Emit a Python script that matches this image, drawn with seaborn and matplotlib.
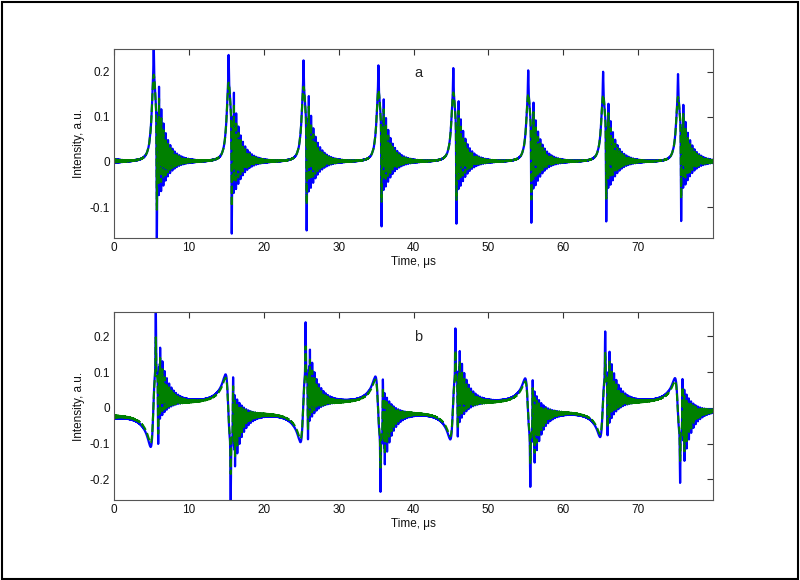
import numpy as np
import matplotlib
matplotlib.use("Agg")
import matplotlib.pyplot as plt
import seaborn as sns

# ---- values ----
# (a) pulse peak times (us) and levels; first entry is the pulse just before t=0
pulse_t_a = [-4.7, 5.3, 15.3, 25.3, 35.3, 45.3, 55.3, 65.3, 75.3]
peak_a = [0.28, 0.26, 0.236, 0.224, 0.213, 0.207, 0.202, 0.199, 0.194]
dip_a = [-0.18, -0.172, -0.159, -0.152, -0.143, -0.137, -0.135, -0.132, -0.131]
ring_a = [0.12, 0.113, 0.105, 0.1, 0.095, 0.092, 0.09, 0.088, 0.087]

# (b) zero crossing of each dispersive pulse, its sign and levels
pulse_t_b = [-4.75, 5.25, 15.25, 25.25, 35.25, 45.25, 55.25, 65.25, 75.25]
sign_b = [-1, 1, -1, 1, -1, 1, -1, 1, -1]
spike_b = [0.29, 0.28, 0.26, 0.24, 0.235, 0.222, 0.222, 0.212, 0.214]
bump_b = [0.11, 0.106, 0.094, 0.095, 0.087, 0.088, 0.081, 0.083, 0.079]
anti_b = [0.1, 0.099, 0.087, 0.088, 0.08, 0.081, 0.077, 0.079, 0.077]

x_ticks = [0, 10, 20, 30, 40, 50, 60, 70]
y_ticks_a = [-0.1, 0, 0.1, 0.2]
y_ticks_b = [-0.2, -0.1, 0, 0.1, 0.2]

BLUE = "#0000ff"
GREEN = "#008000"

t = np.arange(0, 80.0, 0.004)


# Function for the fast ringing that follows every pulse
def ringing(x, band, spike, x0):
    u = np.clip(x - x0, 0, None)
    phase = np.mod(u, 0.3) - 0.15
    comb = np.exp(-(phase / 0.03) ** 2) / 0.84
    env = band * np.exp(-u / 1.8) + spike * np.exp(-u / 0.9) * comb
    return (x > x0) * env * np.sin(2 * np.pi * phase / 0.05)


def trace_a():
    blue = np.zeros_like(t)
    green = np.zeros_like(t)
    for tp, P, D, S in zip(pulse_t_a, peak_a, dip_a, ring_a):
        x = t - tp
        Ps = 0.74 * P
        w = np.where(x < 0, 0.31, 0.4)
        base = Ps * w ** 2 / (x ** 2 + w ** 2)
        top = (P - Ps) * np.exp(-(x / 0.05) ** 2)
        dip = (D - 0.476 * Ps) * np.exp(-((x - 0.42) / 0.05) ** 2)
        band = 0.14 * P
        ring = ringing(x, band, S - 0.3 * band, 0.55)
        blue += base + top + dip + ring
        green += base + 0.75 * dip + 0.78 * ring
    return blue, green


def trace_b():
    blue = np.zeros_like(t)
    green = np.zeros_like(t)
    w = 0.35
    for c, s, M, Q, A in zip(pulse_t_b, sign_b, spike_b, bump_b, anti_b):
        x = t - c
        base = s * Q * 2 * x * w / (x ** 2 + w ** 2)
        main = s * (M - Q) * np.exp(-((x - 0.33) / 0.05) ** 2)
        anti = s * (-A - 0.835 * Q) * np.exp(-((x - 0.65) / 0.045) ** 2)
        ring = s * ringing(x, 0.036, 0.08, 0.75)
        blue += base + main + anti + ring
        green += 0.9 * base + 0.6 * main + 0.8 * anti + 0.78 * ring
    return blue, green


blue_a, green_a = trace_a()
blue_b, green_b = trace_b()

sns.set_style("white")
plt.rcParams["font.family"] = ["Liberation Sans", "DejaVu Sans"]

fig = plt.figure(figsize=(8, 5.8), dpi=100)
ax_a = fig.add_axes([0.1425, 0.5897, 0.749, 0.326])
ax_b = fig.add_axes([0.1425, 0.138, 0.749, 0.324])

panels = [
    (ax_a, blue_a, green_a, (-0.168, 0.25), y_ticks_a, "a"),
    (ax_b, blue_b, green_b, (-0.258, 0.268), y_ticks_b, "b"),
]
for ax, yb, yg, ylim, yt, tag in panels:
    sns.lineplot(x=t, y=yb, ax=ax, color=BLUE, lw=1.6, estimator=None, sort=False)
    sns.lineplot(x=t, y=yg, ax=ax, color=GREEN, lw=1.5, linestyle="--",
                 estimator=None, sort=False)
    ax.set_xlim(0, 80)
    ax.set_ylim(*ylim)
    ax.set_xticks(x_ticks)
    ax.set_xticklabels([str(v) for v in x_ticks])
    ax.set_yticks(yt)
    ax.set_yticklabels(["0" if v == 0 else f"{v:g}" for v in yt])
    ax.tick_params(direction="in", length=4, width=0.8, colors="#333333",
                   labelcolor="#111111", labelsize=8.5, top=True, right=True, pad=3)
    for sp in ax.spines.values():
        sp.set_color("#555555")
        sp.set_linewidth(0.8)
    ax.set_xlabel("Time, \u03bcs", fontsize=8.5, color="#111111")
    ax.set_ylabel("Intensity, a.u.", fontsize=8.5, color="#111111")
    ax.xaxis.set_label_coords(0.5, -0.095)
    ax.yaxis.set_label_coords(-0.048, 0.5)
    ax.text(40.6, 0.197, tag, ha="center", va="center", fontsize=10.5)

# frame round the whole figure
fig.patches.append(plt.Rectangle((0.002, 0.002), 0.995, 0.995, transform=fig.transFigure,
                                 fill=False, lw=1.5, ec="black"))

fig.savefig("out.png", dpi=100)
